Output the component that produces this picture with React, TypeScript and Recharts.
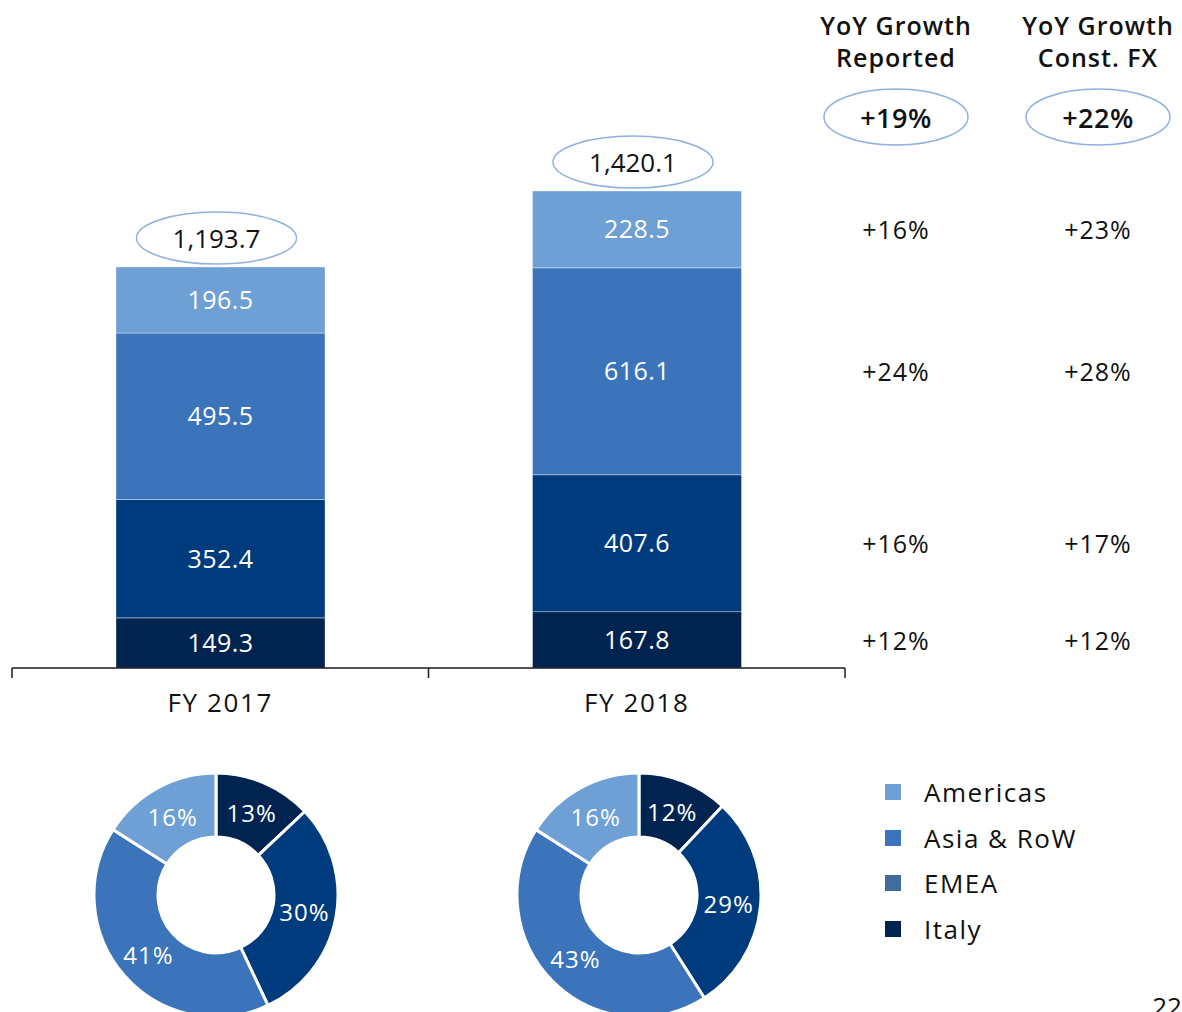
import React from 'react';
import { BarChart, Bar, XAxis, YAxis, LabelList, PieChart, Pie, Cell } from 'recharts';

const categories = ['FY 2017', 'FY 2018'];
// stacked bottom → top
const italy = [149.3, 167.8];
const emea = [352.4, 407.6];
const asiaRow = [495.5, 616.1];
const americas = [196.5, 228.5];
const totals = ['1,193.7', '1,420.1'];

const seriesKeys = ['italy', 'emea', 'asia', 'americas'];
const seriesColors = ['#00244f', '#003c7d', '#3b74ba', '#6e9fd5'];

// YoY growth per region, same order as seriesKeys
const growthReported = ['+12%', '+16%', '+24%', '+16%'];
const growthConstFx = ['+12%', '+17%', '+28%', '+23%'];
const growthHeaders = [
  ['YoY Growth', 'Reported'],
  ['YoY Growth', 'Const. FX'],
];
const totalGrowth = ['+19%', '+22%'];

// pie shares, same order as seriesKeys
const share2017 = [13, 30, 41, 16];
const share2018 = [12, 29, 43, 16];

const legendLabels = ['Americas', 'Asia & RoW', 'EMEA', 'Italy'];
const legendColors = ['#6e9fd5', '#3b74ba', '#436c9e', '#00244f'];

const FONT = '"Open Sans", "Noto Sans", sans-serif';
const INK = '#111111';
const RING = '#8fb1e0';
const COL_X = [896, 1098];
const PLOT_LEFT = 12;
const PLOT_RIGHT = 845;
const BAND = (PLOT_RIGHT - PLOT_LEFT) / categories.length;

const barData = categories.map((name, i) => ({
  name,
  italy: italy[i],
  emea: emea[i],
  asia: asiaRow[i],
  americas: americas[i],
}));

const box = (p: any) => {
  const vb = p.viewBox && p.viewBox.width !== undefined ? p.viewBox : p;
  const h = Number(vb.height);
  const y = Number(vb.y);
  return {
    x: Number(vb.x),
    y: h < 0 ? y + h : y,
    width: Number(vb.width),
    height: Math.abs(h),
  };
};

const makeGrowthLabel = (s: number) => (p: any) => {
  if (p.index !== categories.length - 1) return null;
  const b = box(p);
  const cy = b.y + b.height / 2;
  return (
    <g fontFamily={FONT} fontSize={25} fill={INK} letterSpacing={1}>
      <text x={COL_X[0]} y={cy} textAnchor="middle" dominantBaseline="central">
        {growthReported[s]}
      </text>
      <text x={COL_X[1]} y={cy} textAnchor="middle" dominantBaseline="central">
        {growthConstFx[s]}
      </text>
    </g>
  );
};

const totalLabel = (p: any) => {
  const b = box(p);
  const cx = b.x + b.width / 2 - 4;
  const cy = b.y - 29;
  return (
    <g>
      <ellipse cx={cx} cy={cy} rx={80} ry={26} fill="#ffffff" stroke={RING} strokeWidth={1.5} />
      <text x={cx} y={cy} textAnchor="middle" dominantBaseline="central" fontFamily={FONT} fontSize={26} fill={INK}>
        {totals[p.index]}
      </text>
    </g>
  );
};

const CategoryTick = (props: any) => {
  const { x, y, payload, index } = props;
  const half = BAND / 2;
  return (
    <g>
      <line x1={x - half} x2={x - half} y1={y - 10} y2={y} stroke="#1a1a1a" strokeWidth={1.5} />
      {index === categories.length - 1 && (
        <line x1={x + half} x2={x + half} y1={y - 10} y2={y} stroke="#1a1a1a" strokeWidth={1.5} />
      )}
      <text
        x={x}
        y={y + 24}
        textAnchor="middle"
        dominantBaseline="central"
        fontFamily={FONT}
        fontSize={26}
        letterSpacing={1.6}
        fill={INK}
      >
        {payload.value}
      </text>
    </g>
  );
};

const pieLabel = (shares: number[]) => (p: any) => {
  const RAD = Math.PI / 180;
  const r = (p.innerRadius + p.outerRadius) / 2;
  const x = p.cx + r * Math.cos(-p.midAngle * RAD);
  const y = p.cy + r * Math.sin(-p.midAngle * RAD);
  return (
    <text
      x={x}
      y={y}
      textAnchor="middle"
      dominantBaseline="central"
      fontFamily={FONT}
      fontSize={24}
      letterSpacing={1}
      fill="#ffffff"
    >
      {`${shares[p.index]}%`}
    </text>
  );
};

const Donut = ({ shares, left }: { shares: number[]; left: number }) => {
  const data = seriesKeys.map((k, i) => ({ name: k, value: shares[i] }));
  return (
    <div style={{ position: 'absolute', left, top: 760 }}>
      <PieChart width={270} height={270}>
        <Pie
          data={data}
          dataKey="value"
          cx={130}
          cy={130}
          innerRadius={58}
          outerRadius={122}
          startAngle={90}
          endAngle={-270}
          stroke="#ffffff"
          strokeWidth={3}
          labelLine={false}
          label={pieLabel(shares)}
          isAnimationActive={false}
        >
          {data.map((d, i) => (
            <Cell key={d.name} fill={seriesColors[i]} />
          ))}
        </Pie>
      </PieChart>
    </div>
  );
};

export default function App() {
  return (
    <div
      style={{
        position: 'absolute',
        left: 0,
        top: 0,
        width: 1182,
        height: 1012,
        overflow: 'hidden',
        background: '#ffffff',
        fontFamily: FONT,
      }}
    >
      <div style={{ position: 'absolute', left: 0, top: 0 }}>
        <BarChart
          width={1182}
          height={720}
          data={barData}
          margin={{ top: 97, right: 1182 - PLOT_RIGHT, bottom: 12, left: PLOT_LEFT }}
        >
          <XAxis
            dataKey="name"
            height={40}
            axisLine={{ stroke: '#1a1a1a', strokeWidth: 1.5 }}
            tickLine={false}
            tickSize={10}
            tickMargin={0}
            tick={<CategoryTick />}
          />
          <YAxis hide domain={[0, 1700]} />
          {seriesKeys.map((k, s) => (
            <Bar
              key={k}
              dataKey={k}
              stackId="a"
              barSize={209}
              fill={seriesColors[s]}
              stroke="rgba(255,255,255,0.35)"
              strokeWidth={1}
              isAnimationActive={false}
            >
              <LabelList dataKey={k} position="center" fill="#ffffff" fontFamily={FONT} fontSize={25} letterSpacing={0.5} />
              <LabelList dataKey={k} content={makeGrowthLabel(s)} />
              {s === seriesKeys.length - 1 && <LabelList dataKey={k} content={totalLabel} />}
            </Bar>
          ))}
        </BarChart>
      </div>

      <svg width={1182} height={1012} style={{ position: 'absolute', left: 0, top: 0, pointerEvents: 'none' }}>
        {growthHeaders.map((lines, c) => (
          <g key={c}>
            {lines.map((t, j) => (
              <text
                key={t}
                x={COL_X[c]}
                y={25 + j * 32}
                textAnchor="middle"
                dominantBaseline="central"
                fontFamily={FONT}
                fontSize={25}
                fontWeight={600}
                letterSpacing={1}
                fill={INK}
              >
                {t}
              </text>
            ))}
            <ellipse cx={COL_X[c]} cy={117} rx={72} ry={28} fill="#ffffff" stroke={RING} strokeWidth={1.5} />
            <text
              x={COL_X[c]}
              y={117}
              textAnchor="middle"
              dominantBaseline="central"
              fontFamily={FONT}
              fontSize={27}
              fontWeight={600}
              letterSpacing={0.5}
              fill={INK}
            >
              {totalGrowth[c]}
            </text>
          </g>
        ))}
        <text x={1167} y={1016} textAnchor="middle" fontFamily={FONT} fontSize={26} fill={INK}>
          22
        </text>
      </svg>

      <Donut shares={share2017} left={81} />
      <Donut shares={share2018} left={504} />

      <div style={{ position: 'absolute', left: 885, top: 769 }}>
        {legendLabels.map((label, i) => (
          <div key={label} style={{ display: 'flex', alignItems: 'center', height: 45.7 }}>
            <div style={{ width: 16, height: 16, background: legendColors[i] }} />
            <span style={{ marginLeft: 23, fontSize: 26, color: INK, fontFamily: FONT, lineHeight: 1, letterSpacing: 1.5 }}>
              {label}
            </span>
          </div>
        ))}
      </div>
    </div>
  );
}
